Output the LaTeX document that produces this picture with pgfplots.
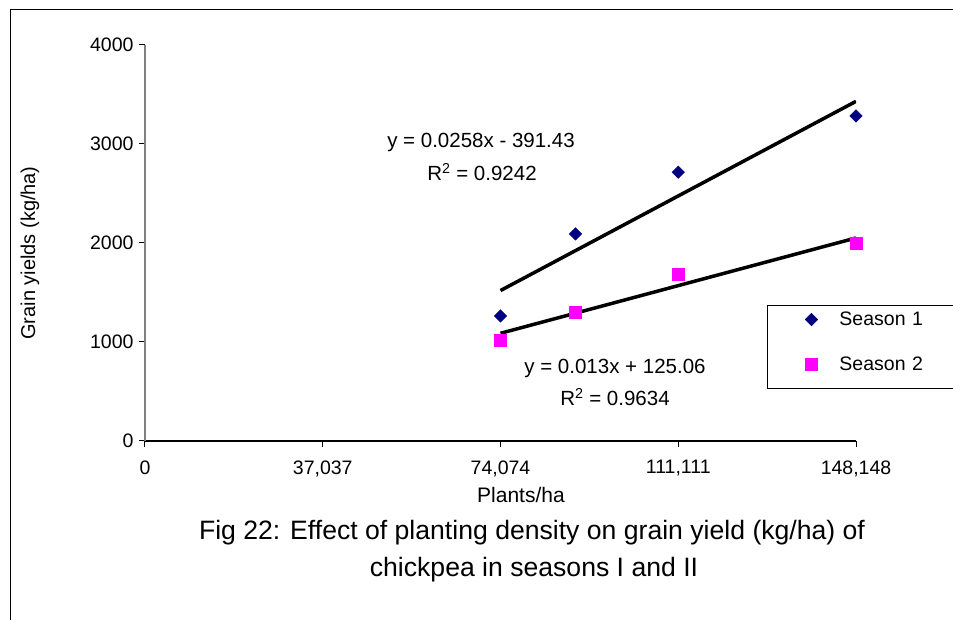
\documentclass[border=0pt]{standalone}
\usepackage{pgfplots}
\pgfplotsset{compat=1.18}
\usepackage{fontspec}
\setmainfont{Liberation Sans}
\definecolor{sone}{HTML}{000080}
\definecolor{stwo}{HTML}{FF00FF}
\newcommand{\fs}{\fontsize{19.5}{22}\selectfont}
\newcommand{\fe}{\fontsize{20.5}{23}\selectfont}
\newcommand{\ft}{\fontsize{26.6}{30}\selectfont}
\begin{document}
\begin{tikzpicture}[x=1pt,y=1pt]
\useasboundingbox (0,0) rectangle (953,620);
\draw[line width=1.3pt] (10.5,-5) -- (10.5,610.5) -- (960,610.5);
\begin{axis}[
  at={(145pt,179pt)}, anchor=south west,
  scale only axis, width=711pt, height=396pt,
  xmin=0, xmax=148148, ymin=0, ymax=4000,
  scaled x ticks=false, scaled y ticks=false,
  axis lines=left,
  x axis line style={-, line width=1.3pt, black},
  y axis line style={-, line width=1.3pt, gray},
  tick align=outside, major tick length=6pt,
  every tick/.style={black, line width=1pt},
  xtick={0,37037,74074,111111,148148},
  xticklabels={0,{37,037},{74,074},{111,111},{148,148}},
  ytick={0,1000,2000,3000,4000},
  yticklabels={0,1000,2000,3000,4000},
  tick label style={font=\fs},
  xticklabel style={yshift=-10pt},
  yticklabel style={xshift=-2pt},
  xlabel={Plants/ha},
  xlabel style={font=\fontsize{21}{24}\selectfont, at={(axis description cs:0.5288,-0.1364)}, anchor=center},
  ylabel={Grain yields (kg/ha)},
  ylabel style={font=\fontsize{20}{23}\selectfont, at={(axis description cs:-0.1617,0.4747)}, anchor=center},
  legend style={at={(axis description cs:0.8748,0.3434)}, anchor=north west,
    draw=black, line width=1pt, font=\fs, inner xsep=9pt, inner ysep=6pt,
    row sep=19pt, column sep=8pt,
    nodes={inner sep=0pt, text height=14pt, text depth=12pt, text width=110pt}},
  legend cell align=left,
  legend image code/.code={\draw[#1] plot coordinates {(0pt,5pt)}; \path[draw=none] (-35pt,-3pt) rectangle (20pt,13pt);},
]
\addplot[only marks, mark=square*, mark size=4.5pt, mark options={rotate=45, fill=sone, draw=sone, line width=0.2pt}]
  coordinates {(74074,1263) (89700,2091) (111111,2715) (148148,3283)};
\addlegendentry{Season 1}
\addplot[only marks, mark=square*, mark size=6pt, mark options={fill=stwo, draw=stwo, line width=0.2pt}]
  coordinates {(74074,1020) (89700,1306) (111111,1690) (148148,2000)};
\addlegendentry{Season 2}
\addplot[black, line width=3.5pt, forget plot] coordinates {(74074,1519.7) (148148,3430.8)};
\addplot[black, line width=3.5pt, forget plot] coordinates {(74074,1088.0) (148148,2051.0)};
\end{axis}
\node[font=\fe] at (481,478) {y = 0.0258x - 391.43};
\node[font=\fe] at (482,448) {R\textsuperscript{2} = 0.9242};
\node[font=\fe] at (615,252) {y = 0.013x + 125.06};
\node[font=\fe] at (615,223) {R\textsuperscript{2} = 0.9634};
\node[font=\ft] at (532,87) {Fig 22: Effect of planting density on grain yield (kg/ha) of};
\node[font=\ft] at (534,50) {chickpea in seasons I and II};
\end{tikzpicture}
\end{document}
